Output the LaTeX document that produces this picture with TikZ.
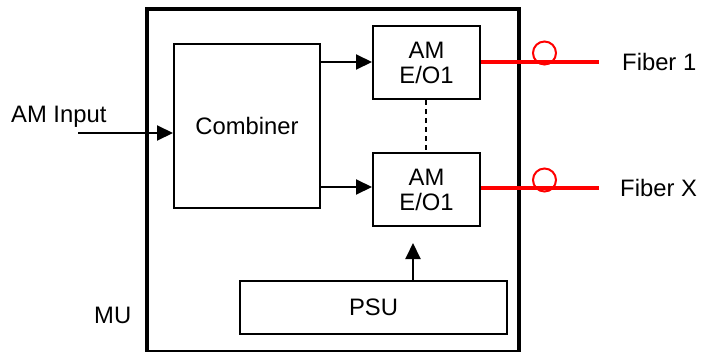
\documentclass[tikz,border=0pt]{standalone}
\usepackage{fontspec}
\setmainfont{Liberation Sans}
\usetikzlibrary{arrows.meta}
\begin{document}
\begin{tikzpicture}[x=1pt,y=-1pt,
  box/.style={draw,line width=2pt,inner sep=0pt},
  lbl/.style={font=\fontsize{23.8}{27}\selectfont,inner sep=0pt},
  arr/.style={line width=2pt,-{Triangle[length=16pt,width=15pt]}},
  fib/.style={red,line width=3.5pt},
  ring/.style={draw=red,line width=2pt,circle,minimum size=23pt,inner sep=0pt}]
\useasboundingbox (0,0) rectangle (701,351);
% outer MU box
\draw[line width=4pt] (147,9) rectangle (519,352.3);
\node[lbl,anchor=west] (mu) at (94,315) {MU};
% Combiner
\node[box,minimum width=146pt,minimum height=164pt,anchor=north west,lbl] (comb) at (173,43) {Combiner};
% AM E/O boxes
\node[box,minimum width=107pt,minimum height=73pt,anchor=north west,lbl,align=center] (eo1) at (372,25) {AM\\[-2pt]E/O1};
\node[box,minimum width=107pt,minimum height=73pt,anchor=north west,lbl,align=center] (eo2) at (372,152) {AM\\[-2pt]E/O1};
% PSU
\node[box,minimum width=267pt,minimum height=53pt,anchor=north west,lbl] (psu) at (239,280) {PSU};
% connectors
\coordinate (in) at (78,133);
\node[lbl,anchor=west] (amin) at (11,117) {AM Input};
\draw[arr] (in) -- (in -| comb.west);
\draw[arr] (comb.east |- 0,62) -- (eo1.west |- 0,62);
\draw[arr] (comb.east |- 0,187) -- (eo2.west |- 0,187);
\draw[line width=1.3pt,dash pattern=on 5pt off 4pt] (eo1.south -| 426,0) -- (eo2.north -| 426,0);
\coordinate (psutip) at (413,243);
\draw[arr] (psu.north -| psutip) -- (psutip);
% fibers
\coordinate (f1end) at (599,62);
\coordinate (f2end) at (599,188);
\draw[fib] (eo1.east |- f1end) -- (f1end);
\draw[fib] (eo2.east |- f2end) -- (f2end);
\node[ring,fill=white] (c1) at (544.5,53) {};
\node[ring,fill=white] (c2) at (544.5,180) {};
\draw[fib] (c1.south west |- f1end) -- (c1.south east |- f1end);
\draw[fib] (c2.south west |- f2end) -- (c2.south east |- f2end);
\node[lbl,anchor=west] (fib1) at (622,62) {Fiber 1};
\node[lbl,anchor=west] (fibx) at (620,188) {Fiber X};
\end{tikzpicture}
\end{document}
